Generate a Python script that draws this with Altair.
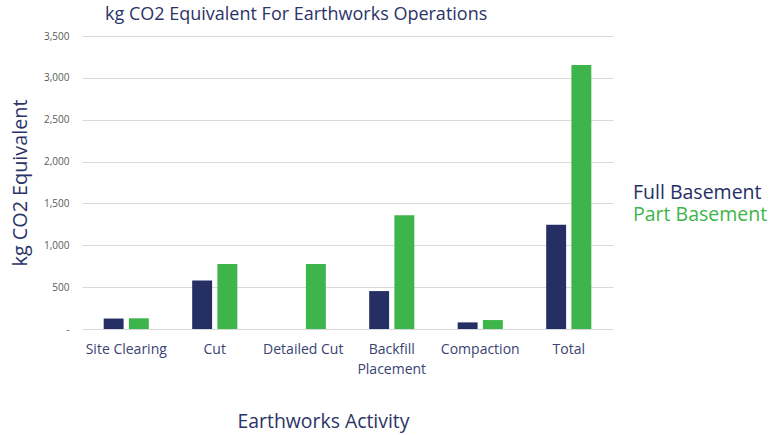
import altair as alt
import pandas as pd

categories = ["Site Clearing", "Cut", "Detailed Cut", "Backfill Placement", "Compaction", "Total"]
series = ["Full Basement", "Part Basement"]
full_values = [125, 580, 0, 453, 79, 1244]
part_values = [128, 775, 775, 1360, 107, 3153]
colors = ["#252F64", "#3DB54A"]
y_ticks = [0, 500, 1000, 1500, 2000, 2500, 3000, 3500]

rows = []
for c, f, p in zip(categories, full_values, part_values):
    rows.append({"Activity": c, "Series": series[0], "Value": f})
    rows.append({"Activity": c, "Series": series[1], "Value": p})
df = pd.DataFrame(rows)

FONT = "Open Sans"

bars = alt.Chart(df).mark_bar().encode(
    x=alt.X(
        "Activity:N",
        sort=categories,
        scale=alt.Scale(paddingInner=0.49, paddingOuter=0.245),
        axis=alt.Axis(
            title="Earthworks Activity",
            titleFont=FONT,
            titleFontSize=19.4,
            titleFontWeight="normal",
            titleColor="#2B3467",
            titleX=241,
            titleY=92,
            titleBaseline="middle",
            labelFont=FONT,
            labelFontSize=14,
            labelColor="#3A4373",
            labelAngle=0,
            labelPadding=13,
            labelLineHeight=20,
            labelExpr="datum.label == 'Backfill Placement' ? ['Backfill', 'Placement'] : datum.label",
            ticks=False,
            domain=False,
            grid=False,
        ),
    ),
    xOffset=alt.XOffset("Series:N", sort=series, scale=alt.Scale(paddingInner=0.21, paddingOuter=0)),
    y=alt.Y(
        "Value:Q",
        scale=alt.Scale(domain=[0, 3500], nice=False),
        axis=alt.Axis(
            values=y_ticks,
            labelExpr="datum.value == 0 ? '-' : format(datum.value, ',')",
            title="kg CO2 Equivalent",
            titleFont=FONT,
            titleFontSize=19.8,
            titleFontWeight="normal",
            titleColor="#2B3467",
            titleX=-52,
            labelFont=FONT,
            labelFontSize=10,
            labelColor="#595959",
            labelPadding=13,
            ticks=False,
            domain=False,
            gridColor="#D9D9D9",
            gridWidth=1,
        ),
    ),
    color=alt.Color("Series:N", sort=series, scale=alt.Scale(domain=series, range=colors), legend=None),
)

legend_df = pd.DataFrame({"Series": series, "idx": [0, 1]})
legend = alt.Chart(legend_df).mark_text(
    align="left", baseline="middle", font=FONT, fontSize=19.5
).encode(
    x=alt.value(551),
    y=alt.Y("idx:Q", scale=alt.Scale(domain=[0, 1], range=[157, 179]), axis=None),
    text="Series:N",
    color=alt.Color("Series:N", sort=series, scale=alt.Scale(domain=series, range=colors), legend=None),
)

chart = alt.layer(bars, legend).resolve_scale(y="independent").properties(
    width=531,
    height=293,
    padding={"left": 82, "top": 36, "right": 162, "bottom": 106},
    autosize="none",
    title=alt.TitleParams(
        "kg CO2 Equivalent For Earthworks Operations",
        font=FONT,
        fontSize=18,
        fontWeight="normal",
        color="#2B3467",
        anchor="start",
        frame="group",
        dx=23,
        offset=7,
    ),
).configure(background="white", view=alt.ViewConfig(stroke=None))

chart.save("out.html", embed_options={"renderer": "svg", "actions": False})
